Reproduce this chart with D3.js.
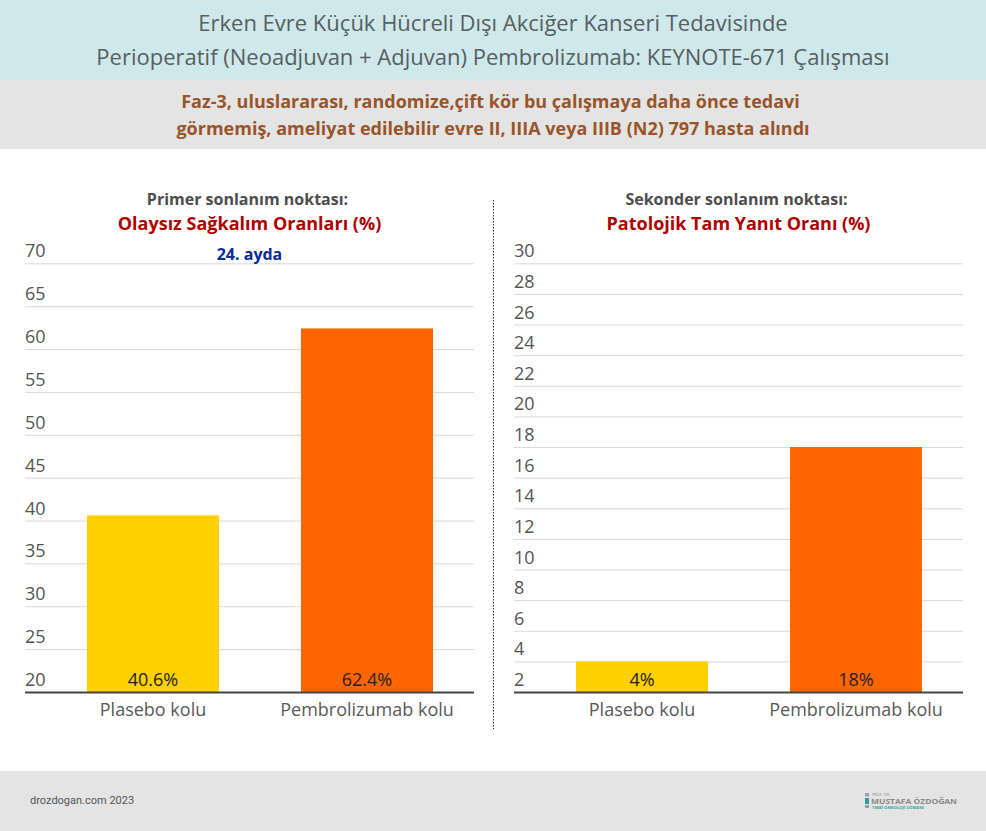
<!DOCTYPE html>
<html>
<head>
<meta charset="utf-8">
<script src="https://cdn.jsdelivr.net/npm/d3@7"></script>
<style>
  html, body { margin: 0; padding: 0; background: #fff; }
  svg { display: block; font-family: "Open Sans", sans-serif; }
  .grid line { stroke: #d9d9d9; stroke-width: 1; }
  .grid .domain { display: none; }
  .grid text { font-family: "Open Sans", sans-serif; font-size: 18px; fill: #555; text-anchor: start; }
  .cats line, .cats .domain { display: none; }
  .cats text { font-family: "Open Sans", sans-serif; font-size: 18px; fill: #595959; }
</style>
</head>
<body>
<svg id="chart" width="986" height="831"></svg>
<script>
const categories = ["Plasebo kolu", "Pembrolizumab kolu"];
const barColors = ["#ffd000", "#ff6600"];

const efsValues = [40.6, 62.4];
const efsLabels = ["40.6%", "62.4%"];
const efsTicks = [20, 25, 30, 35, 40, 45, 50, 55, 60, 65, 70];

const pcrValues = [4, 18];
const pcrLabels = ["4%", "18%"];
const pcrTicks = [2, 4, 6, 8, 10, 12, 14, 16, 18, 20, 22, 24, 26, 28, 30];

const titleLines = [
  "Erken Evre Küçük Hücreli Dışı Akciğer Kanseri Tedavisinde",
  "Perioperatif (Neoadjuvan + Adjuvan) Pembrolizumab: KEYNOTE-671 Çalışması"
];
const subtitleLines = [
  "Faz-3, uluslararası, randomize,çift kör bu çalışmaya daha önce tedavi",
  "görmemiş, ameliyat edilebilir evre II, IIIA veya IIIB (N2) 797 hasta alındı"
];

const svg = d3.select("#chart");
const width = 986;

// header and footer bands
svg.append("rect").attr("width", width).attr("height", 80).attr("fill", "#cfe8ec");
svg.append("rect").attr("y", 80).attr("width", width).attr("height", 69).attr("fill", "#e4e4e4");
svg.append("rect").attr("y", 771).attr("width", width).attr("height", 60).attr("fill", "#e4e4e4");

svg.selectAll(".title").data(titleLines).join("text")
    .attr("class", "title")
    .attr("x", 493)
    .attr("y", (d, i) => 30.5 + i * 34)
    .attr("text-anchor", "middle")
    .attr("font-size", 22)
    .attr("fill", "#55605f")
    .text((d) => d);

// the first line sits a little left of centre in the original
svg.selectAll(".subtitle").data(subtitleLines).join("text")
    .attr("class", "subtitle")
    .attr("x", (d, i) => (i === 0 ? 490.5 : 493))
    .attr("y", (d, i) => 108 + i * 27)
    .attr("text-anchor", "middle")
    .attr("font-size", 18)
    .attr("font-weight", 700)
    .attr("fill", "#99552a")
    .text((d) => d);

function drawPanel(opts) {
  const y = d3.scaleLinear()
      .domain(d3.extent(opts.ticks))
      .range([692, 263.3]);
  const x = d3.scaleBand()
      .domain(categories)
      .range([opts.left + 21, opts.left + 449])
      .paddingInner(0.383)
      .paddingOuter(0.1915);

  const g = svg.append("g");

  const grid = g.append("g")
      .attr("class", "grid")
      .attr("transform", `translate(${opts.left},0)`)
      .call(d3.axisLeft(y).tickValues(opts.ticks).tickSize(-449).tickPadding(0));
  grid.selectAll("text").attr("x", 0).attr("dy", null).attr("y", -6.5);

  g.selectAll(".bar").data(opts.values).join("rect")
      .attr("class", "bar")
      .attr("x", (d, i) => x(categories[i]))
      .attr("y", (d) => y(d))
      .attr("width", x.bandwidth())
      .attr("height", (d) => y.range()[0] - y(d))
      .attr("fill", (d, i) => barColors[i]);

  g.selectAll(".value").data(opts.labels).join("text")
      .attr("class", "value")
      .attr("x", (d, i) => x(categories[i]) + x.bandwidth() / 2)
      .attr("y", 686)
      .attr("text-anchor", "middle")
      .attr("font-size", 18)
      .attr("fill", "#222")
      .text((d) => d);

  g.append("line")
      .attr("x1", opts.left).attr("x2", opts.left + 449)
      .attr("y1", 692.5).attr("y2", 692.5)
      .attr("stroke", "#444").attr("stroke-width", 2);

  const cats = g.append("g")
      .attr("class", "cats")
      .attr("transform", "translate(0,692.5)")
      .call(d3.axisBottom(x).tickSize(0).tickPadding(0));
  cats.selectAll("text").attr("y", 23).attr("dy", null);

  g.append("text")
      .attr("x", opts.titleX - 2).attr("y", 205)
      .attr("text-anchor", "middle")
      .attr("font-size", 16)
      .attr("font-weight", 700)
      .attr("fill", "#4d4d4d")
      .text(opts.kicker);

  g.append("text")
      .attr("x", opts.titleX).attr("y", 230)
      .attr("text-anchor", "middle")
      .attr("font-size", 18)
      .attr("font-weight", 700)
      .attr("fill", "#b00000")
      .text(opts.title);
}

drawPanel({
  left: 25, titleX: 249.5, ticks: efsTicks, values: efsValues, labels: efsLabels,
  kicker: "Primer sonlanım noktası:", title: "Olaysız Sağkalım Oranları (%)"
});
drawPanel({
  left: 514, titleX: 738.5, ticks: pcrTicks, values: pcrValues, labels: pcrLabels,
  kicker: "Sekonder sonlanım noktası:", title: "Patolojik Tam Yanıt Oranı (%)"
});

svg.append("text")
    .attr("x", 249.5).attr("y", 260)
    .attr("text-anchor", "middle")
    .attr("font-size", 16)
    .attr("font-weight", 700)
    .attr("fill", "#0a2a9c")
    .text("24. ayda");

// panel divider
svg.append("line")
    .attr("x1", 493.5).attr("x2", 493.5)
    .attr("y1", 200).attr("y2", 729)
    .attr("stroke", "#333")
    .attr("stroke-dasharray", "1.5 1.5");

// footer
svg.append("text")
    .attr("x", 30).attr("y", 804)
    .attr("font-family", "Roboto, sans-serif")
    .attr("font-size", 11)
    .attr("fill", "#555")
    .text("drozdogan.com 2023");

const logo = svg.append("g").attr("transform", "translate(865,794)");
logo.append("rect").attr("y", -1).attr("width", 4).attr("height", 3.5).attr("fill", "#a9a0a2");
logo.append("rect").attr("y", 4).attr("width", 4).attr("height", 6).attr("fill", "#2a9d9d");
logo.append("rect").attr("y", 11).attr("width", 4).attr("height", 3).attr("fill", "#7fa9a9");
logo.append("text").attr("x", 7).attr("y", 1.7).attr("font-size", 3)
    .attr("textLength", 18).attr("lengthAdjust", "spacingAndGlyphs")
    .attr("fill", "#888").text("PROF. DR.");
logo.append("text").attr("x", 6).attr("y", 9.55).attr("font-size", 6.5).attr("font-weight", 700)
    .attr("textLength", 86).attr("lengthAdjust", "spacingAndGlyphs")
    .attr("fill", "#8a8a8a").text("MUSTAFA ÖZDOĞAN");
logo.append("text").attr("x", 7).attr("y", 14.5).attr("font-size", 3).attr("font-weight", 700)
    .attr("textLength", 52).attr("lengthAdjust", "spacingAndGlyphs")
    .attr("fill", "#3aa5a5").text("TIBBİ ONKOLOJİ UZMANI");
</script>
</body>
</html>
